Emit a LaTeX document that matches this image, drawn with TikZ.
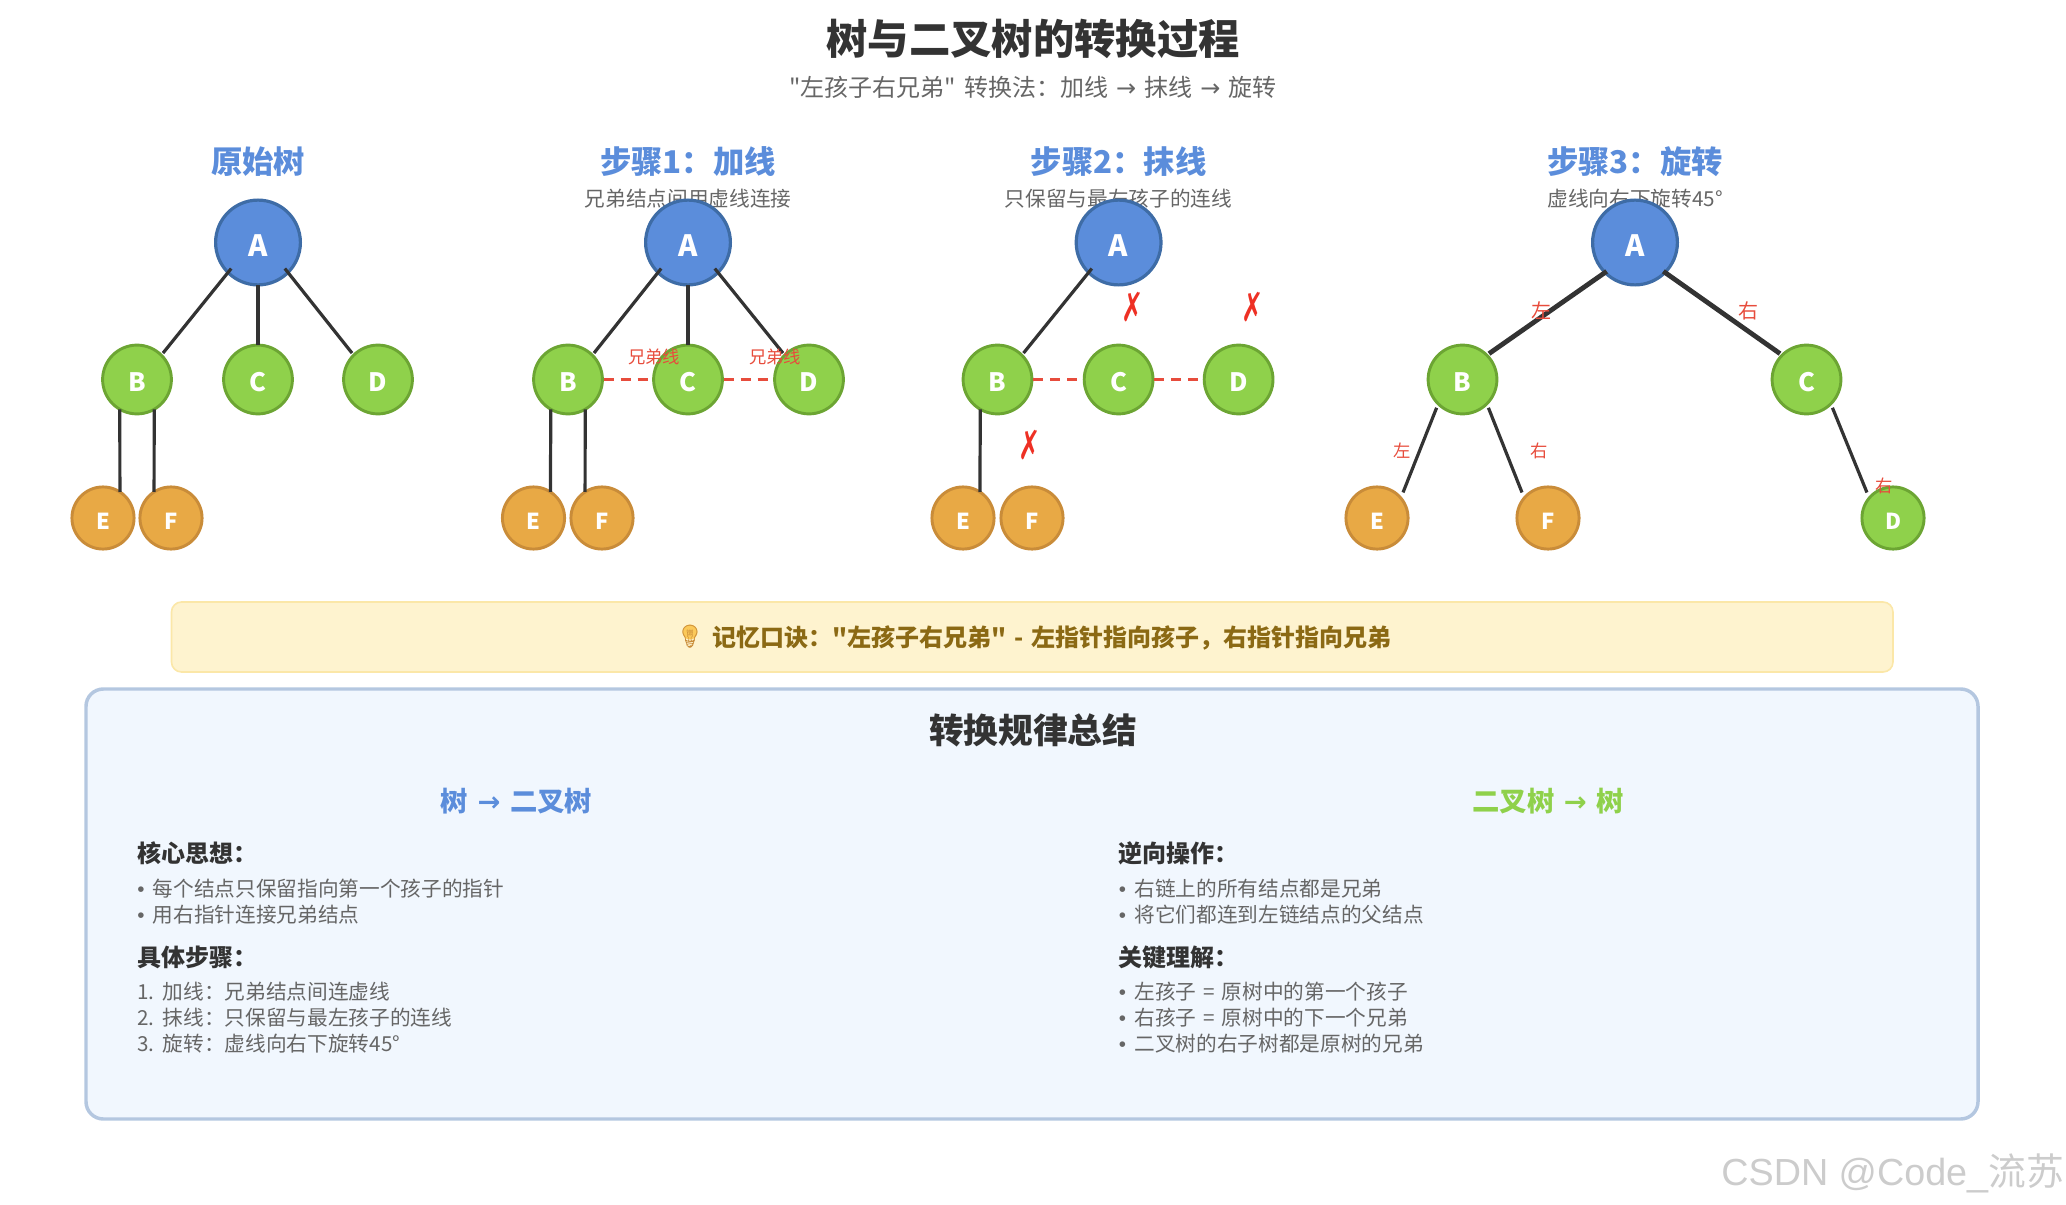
\documentclass[tikz,border=0pt]{standalone}
\usepackage{fontspec}
\setmainfont{Noto Sans CJK SC}[Ligatures=TeXOff,WordSpace=1.5]
\newfontfamily\symfont{DejaVu Sans}
\newfontfamily\emojifont{Noto Emoji}
\newfontfamily\markfont{Liberation Sans}
\newcommand{\fpx}[1]{\fontsize{#1}{#1}\selectfont}
\newcommand{\crossglyph}{\scalebox{0.8}[1.2]{✗}}
\newcommand{\dotglyph}{{\markfont •}\hspace{0.4em}}
\definecolor{rootblue}{HTML}{5B8DDB}
\definecolor{rootedge}{HTML}{3E6CA6}
\definecolor{midgreen}{HTML}{8FD14B}
\definecolor{midedge}{HTML}{6CA533}
\definecolor{leaforange}{HTML}{E8A945}
\definecolor{leafedge}{HTML}{C98C39}
\definecolor{linkdark}{HTML}{333333}
\definecolor{notered}{HTML}{E74C3C}
\definecolor{crossred}{HTML}{EE3024}
\definecolor{textgray}{HTML}{666666}
\definecolor{tipfill}{HTML}{FEF3CF}
\definecolor{tipedge}{HTML}{FBE7A8}
\definecolor{tiptext}{HTML}{8B6914}
\definecolor{bulbyellow}{HTML}{FBC95A}
\definecolor{panelfill}{HTML}{F1F7FE}
\definecolor{paneledge}{HTML}{B4C7E0}
\tikzset{
    rootnode/.style={circle,draw=rootedge,fill=rootblue,line width=2.4pt,minimum size=63.6pt,inner sep=0pt,outer sep=0pt,text=white,font=\fpx{22}\bfseries,text height=21.5pt},
    midnode/.style={circle,draw=midedge,fill=midgreen,line width=2.2pt,minimum size=51.6pt,inner sep=0pt,outer sep=0pt,text=white,font=\fpx{19}\bfseries,text height=18.5pt},
    leafnode/.style={circle,draw=leafedge,fill=leaforange,line width=2.2pt,minimum size=46.6pt,inner sep=0pt,outer sep=0pt,text=white,font=\fpx{16.5}\bfseries,text height=16.5pt},
    link/.style={draw=linkdark,line width=2.4pt},
    rootlink/.style={draw=linkdark,line width=2.4pt,shorten <=-3.8pt,shorten >=2pt},
    heavylink/.style={draw=linkdark,line width=3.6pt,shorten <=-1.5pt,shorten >=2pt},
    openlink/.style={draw=linkdark,line width=2.4pt,shorten <=3.2pt,shorten >=4.5pt},
    brotherlink/.style={draw=notered,line width=2.4pt,dash pattern=on 7.5pt off 5.25pt,shorten <=1pt,shorten >=2pt},
    stephead/.style={text=rootblue,font=\fpx{23.5}\bfseries},
    stepnote/.style={text=textgray,font=\fpx{15.5}},
    rednote/.style={text=notered,font=\fpx{13}},
    crossmark/.style={text=crossred,font=\symfont\fpx{25}},
    listhead/.style={anchor=west,inner sep=0pt,text=linkdark,font=\fpx{18}\bfseries},
    listitem/.style={anchor=west,inner sep=0pt,text=textgray,font=\fpx{15.5}},
}
\begin{document}
\begin{tikzpicture}[x=0.75pt,y=-0.75pt]
    \useasboundingbox (0,0) rectangle (2066,1205);
    \node[text=linkdark,font=\fpx{31}\bfseries] (title) at (1033,39) {树与二叉树的转换过程};
    \node[text=textgray,font=\fpx{18}] (subtitle) at (1033,87.5) {"左孩子右兄弟" 转换法：加线 {\symfont →} 抹线 {\symfont →} 旋转};

    \node[stephead] (head1) at (258,162) {原始树};
    \node[stephead] (head2) at (688,162) {步骤1：加线};
    \node[stephead] (head3) at (1118.6,162) {步骤2：抹线};
    \node[stephead] (head4) at (1635,162) {步骤3：旋转};
    \node[stepnote] (note2) at (688,199) {兄弟结点间用虚线连接};
    \node[stepnote] (note3) at (1118.6,199) {只保留与最左孩子的连线};
    \node[stepnote] (note4) at (1635,199) {虚线向右下旋转45°};

    \node[rootnode] (a1) at (258,242.5) {A};
    \node[midnode] (b1) at (137,379.5) {B};
    \node[midnode] (c1) at (258,379.5) {C};
    \node[midnode] (d1) at (378,379.5) {D};
    \node[leafnode] (e1) at (103,518) {E};
    \node[leafnode] (f1) at (171,518) {F};
    \draw[rootlink] (a1.south west) -- (b1.north east);
    \draw[link] (a1.south) -- (c1.north);
    \draw[rootlink] (a1.south east) -- (d1.north west);
    \draw[link] (b1.240) -- (e1.57);
    \draw[link] (b1.300) -- (f1.123);

    \node[rootnode] (a2) at (688,242.5) {A};
    \node[midnode] (b2) at (568,379.5) {B};
    \node[midnode] (c2) at (688,379.5) {C};
    \node[midnode] (d2) at (809,379.5) {D};
    \node[leafnode] (e2) at (533.5,518) {E};
    \node[leafnode] (f2) at (602,518) {F};
    \draw[rootlink] (a2.south west) -- (b2.north east);
    \draw[link] (a2.south) -- (c2.north);
    \draw[rootlink] (a2.south east) -- (d2.north west);
    \draw[link] (b2.240) -- (e2.57);
    \draw[link] (b2.300) -- (f2.123);
    \draw[brotherlink] (b2.east) -- (c2.west);
    \draw[brotherlink] (c2.east) -- (d2.west);
    \node[rednote] (bro1) at (654,356.5) {兄弟线};
    \node[rednote] (bro2) at (775,356.5) {兄弟线};

    \node[rootnode] (a3) at (1118.6,242.5) {A};
    \node[midnode] (b3) at (997.5,379.5) {B};
    \node[midnode] (c3) at (1118.6,379.5) {C};
    \node[midnode] (d3) at (1238.6,379.5) {D};
    \node[leafnode] (e3) at (963,518) {E};
    \node[leafnode] (f3) at (1032,518) {F};
    \draw[rootlink] (a3.south west) -- (b3.north east);
    \draw[link] (b3.240) -- (e3.57);
    \draw[brotherlink] (b3.east) -- (c3.west);
    \draw[brotherlink] (c3.east) -- (d3.west);
    \node[crossmark] (cross1) at (1132.5,307) {\crossglyph};
    \node[crossmark] (cross2) at (1253,307) {\crossglyph};
    \node[crossmark] (cross3) at (1029.5,445) {\crossglyph};

    \node[rootnode] (a4) at (1635,242.5) {A};
    \node[midnode] (b4) at (1462.5,379.5) {B};
    \node[midnode] (c4) at (1806.5,379.5) {C};
    \node[leafnode] (e4) at (1377,518) {E};
    \node[leafnode] (f4) at (1548,518) {F};
    \node[leafnode,draw=midedge,fill=midgreen] (d4) at (1893,518) {D};
    \draw[heavylink] (a4.south west) -- (b4.north east);
    \draw[heavylink] (a4.south east) -- (c4.north west);
    \draw[openlink] (b4.south west) -- (e4.40);
    \draw[openlink] (b4.south east) -- (f4.140);
    \draw[openlink] (c4.south east) -- (d4.140);
    \node[rednote,font=\fpx{15}] (left1) at (1541,311) {左};
    \node[rednote,font=\fpx{15}] (right1) at (1748,311) {右};
    \node[rednote] (left2) at (1402,450.5) {左};
    \node[rednote] (right2) at (1539.5,450.5) {右};
    \node[rednote] (right3) at (1884.5,485.5) {右};

    \draw[draw=tipedge,fill=tipfill,line width=1.2pt,rounded corners=7.5pt] (171.5,602) rectangle (1893,672);
    \fill[bulbyellow] (690,632) circle (7.5);
    \node[text=leafedge,font=\emojifont\fpx{17}] (bulb) at (690,636.5) {💡};
    \node[text=tiptext,font=\fpx{18}\bfseries] (tip) at (1052,637.5) {记忆口诀："左孩子右兄弟" - 左指针指向孩子，右指针指向兄弟};

    \draw[draw=paneledge,fill=panelfill,line width=2.6pt,rounded corners=13pt] (86,689) rectangle (1978,1119);
    \node[text=linkdark,font=\fpx{26}\bfseries] (sumtitle) at (1033,730) {转换规律总结};
    \node[text=rootblue,font=\fpx{20.5}\bfseries] (leftcol) at (516.5,801) {树 {\symfont →} 二叉树};
    \node[text=midgreen,font=\fpx{20.5}\bfseries] (rightcol) at (1548,801) {二叉树 {\symfont →} 树};

    \node[listhead] (lhead1) at (137,853.5) {核心思想：};
    \node[listitem] (litem1) at (137,889) {\dotglyph 每个结点只保留指向第一个孩子的指针};
    \node[listitem] (litem2) at (137,915) {\dotglyph 用右指针连接兄弟结点};
    \node[listhead] (lhead2) at (137,957.5) {具体步骤：};
    \node[listitem] (litem3) at (137,992) {1. 加线：兄弟结点间连虚线};
    \node[listitem] (litem4) at (137,1018) {2. 抹线：只保留与最左孩子的连线};
    \node[listitem] (litem5) at (137,1044) {3. 旋转：虚线向右下旋转45°};

    \node[listhead] (rhead1) at (1118.6,853.5) {逆向操作：};
    \node[listitem] (ritem1) at (1118.6,889) {\dotglyph 右链上的所有结点都是兄弟};
    \node[listitem] (ritem2) at (1118.6,915) {\dotglyph 将它们都连到左链结点的父结点};
    \node[listhead] (rhead2) at (1118.6,957.5) {关键理解：};
    \node[listitem] (ritem3) at (1118.6,992) {\dotglyph 左孩子 = 原树中的第一个孩子};
    \node[listitem] (ritem4) at (1118.6,1018) {\dotglyph 右孩子 = 原树中的下一个兄弟};
    \node[listitem] (ritem5) at (1118.6,1044) {\dotglyph 二叉树的右子树都是原树的兄弟};

    \node[anchor=east,inner sep=0pt,text=black!20,font=\fpx{28.3}] (mark) at (2064,1173) {{\markfont CSDN @Code\_}流苏};
\end{tikzpicture}
\end{document}
